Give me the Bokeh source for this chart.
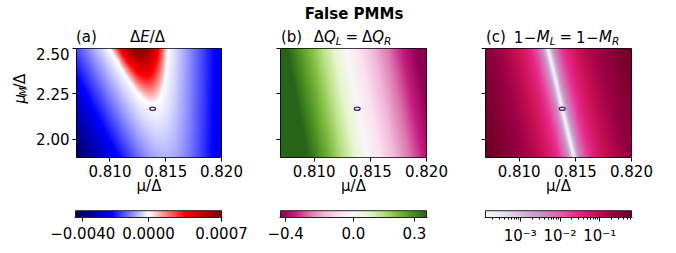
import numpy as np
from bokeh.plotting import figure
from bokeh.layouts import column, row
from bokeh.models import Label, FixedTicker, LinearColorMapper, Range1d
from bokeh.embed import file_html
from bokeh.resources import INLINE

FONT = "DejaVu Sans"
FS = 15.0
MID = 0.30            # baseline sits 0.30 em below the middle anchor

# ---------------- data ----------------
mu_lim = [0.807, 0.820]
muM_lim = [1.9, 2.5]
mu_ticks = [0.810, 0.815, 0.820]
mu_labels = ["0.810", "0.815", "0.820"]
muM_ticks = [2.00, 2.25, 2.50]
muM_labels = ["2.00", "2.25", "2.50"]

# small contour marking the sweet spot
spot_mu = [0.81383]
spot_muM = [2.168]
spot_w = [0.00052]
spot_h = [0.018]

# (a) ΔE/Δ
dE_levels = [-0.00444, 0.0, 0.0007]         # colour scale: min, centre, max
dE_cbar_ticks = [-0.0040, 0.0, 0.0007]
dE_cbar_labels = ["−0.0040", "0.0000", "0.0007"]
dE_tip = [0.8138, 2.196]                    # lowest point of the ΔE>0 lobe
dE_top = [0.8126, 0.0026, 0.0007]           # lobe centre, half width, peak value at μ_M=2.50
dE_soft = [0.004]

# (b) ΔQ_L = ΔQ_R
dQ_levels = [-0.43, 0.0, 0.36]
dQ_cbar_ticks = [-0.4, 0.0, 0.3]
dQ_cbar_labels = ["−0.4", "0.0", "0.3"]
dQ_zero_mu = [0.8128, 0.8147]               # ΔQ=0 at μ_M = 2.50 and 1.90
dQ_slope = [-68.0]

# (c) 1-M_L = 1-M_R
oneM_levels = [1.33e-4, 0.63]
oneM_cbar_ticks = [1e-3, 1e-2, 1e-1]
oneM_cbar_labels = ["10⁻³", "10⁻²", "10⁻¹"]
oneM_zero_mu = [0.81256, 0.81487]           # white line at μ_M = 2.50 and 1.90
oneM_scale = [4430.0, 1.85, 1.5e-4]         # amplitude, power, floor

# ---------------- colour maps ----------------
def ramp(colors, positions=None, n=256):
    cols = np.array([[int(c[i:i + 2], 16) for i in (1, 3, 5)] for c in colors], float)
    if positions is None:
        positions = np.linspace(0, 1, len(colors))
    t = np.linspace(0, 1, n)
    out = np.stack([np.interp(t, positions, cols[:, k]) for k in range(3)], 1)
    return ["#%02x%02x%02x" % tuple(int(round(v)) for v in c) for c in out]

seismic = ramp(["#00004c", "#0000ff", "#ffffff", "#ff0000", "#7f0000"], [0, 0.25, 0.5, 0.75, 1])
piyg = ramp(['#8e0152', '#c51b7d', '#de77ae', '#f1b6da', '#fde0ef', '#f7f7f7',
             '#e6f5d0', '#b8e186', '#7fbc41', '#4d9221', '#276419'])
purd = ramp(['#f7f4f9', '#e7e1ef', '#d4b9da', '#c994c7', '#df65b0', '#e7298a',
             '#ce1256', '#980043', '#67001f'])

def two_slope(v, lv):
    vmin, vc, vmax = lv
    v = np.asarray(v, float)
    n = np.where(v < vc, 0.5 * (v - vmin) / (vc - vmin), 0.5 + 0.5 * (v - vc) / (vmax - vc))
    return np.clip(n, 0, 1)

def log_norm(v, lv):
    a, b = np.log10(lv[0]), np.log10(lv[1])
    return np.clip((np.log10(v) - a) / (b - a), 0, 1)

# ---------------- fields ----------------
nx, ny = 300, 230
MU, MUM = np.meshgrid(np.linspace(mu_lim[0], mu_lim[1], nx), np.linspace(muM_lim[0], muM_lim[1], ny))
ytop, ybot = muM_lim[1], muM_lim[0]

tx, ty = dE_tip
cx, hw, vtop = dE_top
xc = tx + (MUM - ty) * (cx - tx) / (ytop - ty)
g = lambda d: d ** 2 / np.sqrt(1 + (d / dE_soft[0]) ** 2)
dE = vtop / (ytop - ty) * (MUM - ty) - vtop / g(hw) * g(MU - xc)

x0 = dQ_zero_mu[1] + (MUM - ybot) * (dQ_zero_mu[0] - dQ_zero_mu[1]) / (ytop - ybot)
dQ = dQ_slope[0] * (MU - x0)

x1 = oneM_zero_mu[1] + (MUM - ybot) * (oneM_zero_mu[0] - oneM_zero_mu[1]) / (ytop - ybot)
oneM = oneM_scale[0] * np.abs(MU - x1) ** oneM_scale[1] + oneM_scale[2]

# ---------------- layout (page pixels) ----------------
FR_W, FR_H = 146, 109
FR_TOP = 48
FR_LEFTS = [75, 280, 485]
COLS = [(0, 253), (253, 458), (458, 668)]
ROW0 = (0, 47)        # titles
ROW1 = (47, 199)      # heat maps (with x tick labels and x axis label)
ROW2 = (199, 247)     # colour bars
YLAB_W = 33
CB_BOT = 221          # bottom edge of colour bars
CB_H = 8.3
SUB_DROP = 2

W = {'Δ': 0.684, 'E': 0.632, '/': 0.337, 'Q': 0.787, 'L': 0.557, 'R': 0.695, '=': 0.838,
     'M': 0.863, '1': 0.636, '−': 0.838, 'μ': 0.635, '(': 0.390, ')': 0.390,
     'a': 0.613, 'b': 0.635, 'c': 0.550, ' ': 0.318}

def twidth(s, size):
    return sum(W.get(ch, 0.6) for ch in s) * size

def put(fig, tf, px, py, text, size=FS, italic=False, vertical=False, align="left", bold=False):
    # (px, py) is the baseline position in page pixels; the label is anchored on its middle
    if vertical:
        x, y = tf(px - MID * size, py)
    else:
        x, y = tf(px, py - MID * size)
    style = "bold" if bold else ("italic" if italic else "normal")
    fig.add_layout(Label(x=x, y=y, text=text, text_font=FONT, text_font_size=f"{size}px",
                         text_font_style=style, text_color="black",
                         angle=np.pi / 2 if vertical else 0.0,
                         text_align=align, text_baseline="middle"))

def put_math(fig, tf, px, py, pieces, vertical=False):
    pos = px if not vertical else py
    for text, italic, sub, gap in pieces:
        size = FS * 0.7 if sub else FS
        shift = SUB_DROP if sub else 0
        if not vertical:
            pos += gap
            put(fig, tf, pos, py + shift, text, size, italic)
            pos += twidth(text, size)
        else:
            pos -= gap
            put(fig, tf, px + shift, pos, text, size, italic, vertical=True)
            pos -= twidth(text, size)

def mwidth(pieces):
    return sum(twidth(t, FS * 0.7 if s else FS) + gp for t, i, s, gp in pieces)

def text_fig(x0, x1, y0, y1):
    f = figure(width=x1 - x0, height=y1 - y0, x_range=Range1d(0, x1 - x0), y_range=Range1d(0, y1 - y0),
               output_backend="svg", toolbar_location=None, title=None, min_border=0,
               x_axis_location=None, y_axis_location=None)
    f.grid.visible = False
    f.outline_line_color = None
    tf = lambda px, py: (px - x0, y1 - py)
    return f, tf

def panel(idx, field, palette):
    c0, c1 = COLS[idx]
    if idx == 0:
        c0 = YLAB_W
    fl = FR_LEFTS[idx]
    p = figure(width=c1 - c0, height=ROW1[1] - ROW1[0], x_range=Range1d(*mu_lim), y_range=Range1d(*muM_lim),
               output_backend="svg", toolbar_location=None, title=None,
               min_border_left=fl - c0, min_border_right=c1 - fl - FR_W,
               min_border_top=FR_TOP - ROW1[0], min_border_bottom=ROW1[1] - FR_TOP - FR_H)
    p.image(image=[field], x=mu_lim[0], y=muM_lim[0], dw=mu_lim[1] - mu_lim[0],
            dh=muM_lim[1] - muM_lim[0], color_mapper=LinearColorMapper(palette=palette, low=0, high=1))
    p.ellipse(x=spot_mu, y=spot_muM, width=spot_w, height=spot_h, fill_color=None,
              line_color="#4b1d6b", line_width=1.3)
    p.grid.visible = False
    p.outline_line_color = "black"
    p.outline_line_width = 1
    for ax, ticks, labels in ((p.xaxis, mu_ticks, mu_labels), (p.yaxis, muM_ticks, muM_labels)):
        ax.ticker = FixedTicker(ticks=ticks, minor_ticks=[])
        ax.major_label_overrides = dict(zip(ticks, labels))
        ax.major_tick_out = 4
        ax.major_tick_in = 0
        ax.minor_tick_out = 0
        ax.axis_line_color = None
        ax.major_tick_line_color = "black"
        ax.major_label_text_font = FONT
        ax.major_label_text_font_size = f"{FS}px"
        ax.major_label_text_color = "black"
        ax.major_label_standoff = 6 if ax is p.xaxis else 3
    xa = p.xaxis[0]
    xa.axis_label = "μ/Δ"
    xa.axis_label_text_font = FONT
    xa.axis_label_text_font_size = f"{FS}px"
    xa.axis_label_text_font_style = "normal"
    xa.axis_label_text_color = "black"
    xa.axis_label_standoff = -3
    if idx > 0:
        # shared y axis: ticks only
        p.yaxis.major_label_text_color = None
        p.yaxis.major_label_text_font_size = "0px"
        p.yaxis.major_label_standoff = 0
    return p

def cbar(idx, palette, lo, hi, ticks, labels, minor=()):
    c0, c1 = COLS[idx]
    fl = FR_LEFTS[idx]
    d = (hi - lo) / FR_W
    ftop = ROW2[0]
    c = figure(width=c1 - c0, height=ROW2[1] - ROW2[0], x_range=Range1d(lo - d, hi + d),
               y_range=Range1d(0, CB_BOT - ftop),
               output_backend="svg", toolbar_location=None, title=None, y_axis_location=None,
               min_border_left=fl - 1 - c0, min_border_right=c1 - (fl + FR_W + 1),
               min_border_top=0, min_border_bottom=ROW2[1] - CB_BOT)
    c.image(image=[np.linspace(0, 1, 256)[None, :]], x=lo, y=0, dw=hi - lo, dh=CB_H,
            color_mapper=LinearColorMapper(palette=palette, low=0, high=1))
    c.quad(left=[lo], right=[hi], bottom=[0], top=[CB_H], fill_color=None, line_color="#222222", line_width=1)
    c.grid.visible = False
    c.outline_line_color = None
    ax = c.xaxis
    ax.ticker = FixedTicker(ticks=list(ticks), minor_ticks=list(minor))
    ax.major_label_overrides = dict(zip(ticks, labels))
    ax.major_tick_out = 4
    ax.major_tick_in = 0
    ax.minor_tick_out = 2
    ax.minor_tick_in = 0
    ax.axis_line_color = "#222222"
    ax.major_label_text_font = FONT
    ax.major_label_text_font_size = f"{FS}px"
    ax.major_label_text_color = "black"
    ax.major_label_standoff = 5
    return c

pA = panel(0, two_slope(dE, dE_levels), seismic)
pB = panel(1, two_slope(dQ, dQ_levels), piyg)
pC = panel(2, log_norm(oneM, oneM_levels), purd)

# titles row
T, ttf = text_fig(0, COLS[2][1], ROW0[0], ROW0[1])
put(T, ttf, 353.5, 18.3, "False PMMs", align="center", bold=True)
put(T, ttf, 75.5, 41.3, "(a)")
ta = [("Δ", False, False, 0), ("E", True, False, 0), ("/", False, False, 0), ("Δ", False, False, 0)]
put_math(T, ttf, 147 - mwidth(ta) / 2, 41.3, ta)
put(T, ttf, 280.5, 41.3, "(b)")
tb = [("Δ", False, False, 0), ("Q", True, False, 0), ("L", True, True, 0), ("=", False, False, 3.9),
      ("Δ", False, False, 3.9), ("Q", True, False, 0), ("R", True, True, 0)]
put_math(T, ttf, 352 - mwidth(tb) / 2, 41.3, tb)
put(T, ttf, 485.5, 41.3, "(c)")
tc = [("1", False, False, 0), ("−", False, False, 0.5), ("M", True, False, 0.5), ("L", True, True, 0),
      ("=", False, False, 3.9), ("1", False, False, 3.9), ("−", False, False, 0.5),
      ("M", True, False, 0.5), ("R", True, True, 0)]
put_math(T, ttf, 566 - mwidth(tc) / 2, 41.3, tc)

# y label column
Y, ytf = text_fig(0, YLAB_W, ROW1[0], ROW1[1])
yl = [("μ", True, False, 0), ("M", True, True, 1), ("/", False, False, 1.5), ("Δ", False, False, 1)]
put_math(Y, ytf, 23.5, 105 + mwidth(yl) / 2, yl, vertical=True)

# colour bars
cA = cbar(0, seismic, 0.0, 1.0, list(two_slope(dE_cbar_ticks, dE_levels)), dE_cbar_labels)
cB = cbar(1, piyg, 0.0, 1.0, list(two_slope(dQ_cbar_ticks, dQ_levels)), dQ_cbar_labels)
lo, hi = np.log10(oneM_levels[0]), np.log10(oneM_levels[1])
minor = [np.log10(k * 10.0 ** e) for e in range(-4, 0) for k in range(2, 10)]
minor = [m for m in minor if lo <= m <= hi]
cC = cbar(2, purd, lo, hi, list(np.log10(oneM_cbar_ticks)), oneM_cbar_labels, minor)

layout = column(T, row(Y, pA, pB, pC), row(cA, cB, cC))
open("out.html", "w").write(file_html(layout, INLINE))
